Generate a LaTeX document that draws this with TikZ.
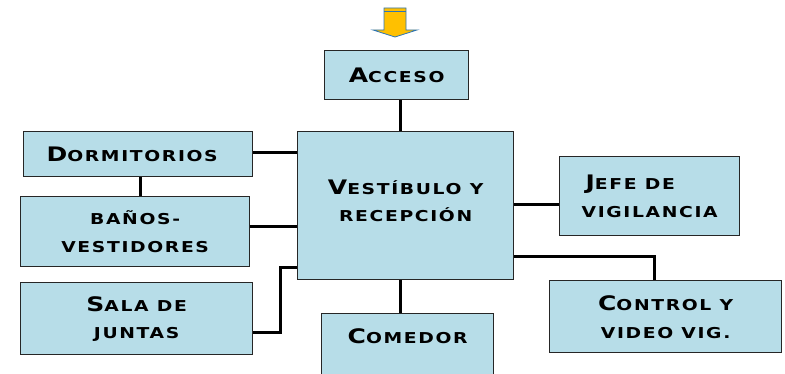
\documentclass[tikz,border=0pt]{standalone}
\usepackage{fontspec}
\newfontfamily\eurof{DejaVu Sans}[FakeStretch=1.25,LetterSpace=11]
\newcommand\Bg[1]{{\fontsize{20}{27.5}\selectfont #1}}
\definecolor{boxblue}{RGB}{183,221,232}
\definecolor{arrowfill}{RGB}{255,192,0}
\definecolor{arrowline}{RGB}{46,117,182}
\tikzset{
  roombox/.style={draw=black!85, line width=1.3pt, fill=boxblue, inner sep=0pt,
    align=center, anchor=north west,
    font=\eurof\bfseries\fontsize{15}{27.5}\selectfont},
  link/.style={line width=3pt, black}
}
\begin{document}
\begin{tikzpicture}[x=1pt,y=-1pt]
\useasboundingbox (0,0) rectangle (785,374);
\clip (0,0) rectangle (785,374);
% arrow
\fill[arrowfill, draw=arrowline, line width=0.8pt] (384,8) -- (406,8) -- (406,30) -- (417,30) -- (395,37) -- (373,30) -- (384,30) -- cycle;
\draw[arrowline, line width=0.8pt] (384,11.5) -- (406,11.5);
% boxes
\node[roombox, minimum width=144pt, minimum height=49pt] (acc) at (324,50) {\Bg{A}CCESO};
\node[roombox, minimum width=216pt, minimum height=148pt] (vest) at (297,131) {\Bg{V}ESTÍBULO Y\\RECEPCIÓN\\[-17.5pt]\mbox{}};
\node[roombox, minimum width=229pt, minimum height=45pt] (dorm) at (23,131) {\Bg{D}ORMITORIOS\hspace*{12pt}};
\node[roombox, minimum width=229pt, minimum height=70pt] (banos) at (20,196) {\rule{0pt}{14pt}BAÑOS-\\VESTIDORES};
\node[roombox, minimum width=232pt, minimum height=72pt] (sala) at (20,282) {\rule{0pt}{16pt}\Bg{S}ALA DE\\JUNTAS};
\node[roombox, minimum width=172pt, minimum height=70pt, text height=30pt, text depth=40pt] (com) at (321,313) {\Bg{C}OMEDOR};
\node[roombox, minimum width=180pt, minimum height=79pt, align=left] (jefe) at (559,156) {\hspace*{4pt}\Bg{J}EFE DE\\VIGILANCIA};
\node[roombox, minimum width=232pt, minimum height=72pt] (ctrl) at (549,280) {\rule{0pt}{16pt}\Bg{C}ONTROL Y\\VIDEO VIG.};
% connectors
\coordinate (c1) at (400,0);
\coordinate (c2) at (280,268);
\coordinate (c3) at (654,257);
\draw[link] (acc.south -| c1) -- (vest.north -| c1);
\draw[link] (vest.south -| c1) -- (com.north -| c1);
\draw[link] ([yshift=2pt]dorm.east) -- ([yshift=2pt]dorm.east -| vest.west);
\draw[link] ([xshift=2pt]dorm.south) -- ([xshift=2pt]dorm.south |- banos.north);
\draw[link] ([yshift=5pt]banos.east) -- ([yshift=5pt]banos.east -| vest.west);
\draw[link] ([yshift=-14pt]sala.east) -| (c2) -- (c2 -| vest.west);
\draw[link] ([yshift=-8.5pt]jefe.west) -- ([yshift=-8.5pt]jefe.west -| vest.east);
\draw[link] (c3 -| vest.east) -| (c3 |- ctrl.north);
\end{tikzpicture}
\end{document}
